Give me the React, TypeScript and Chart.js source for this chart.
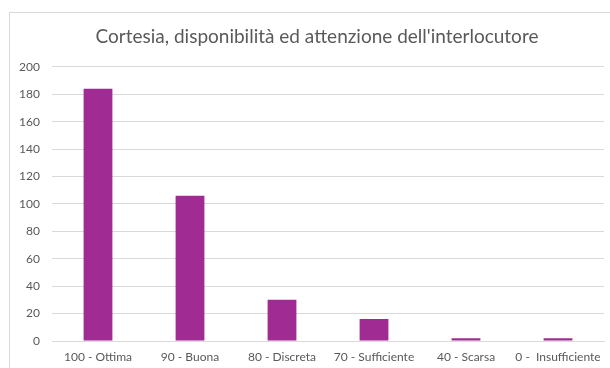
import React, { useEffect, useRef } from "react";
import { Chart, registerables } from "chart.js";

Chart.register(...registerables);

const categories = ["100 - Ottima", "90 - Buona", "80 - Discreta", "70 - Sufficiente", "40 - Scarsa", "0 -  Insufficiente"];
const values = [184, 106, 30, 16, 2, 2];
const yTicks = { min: 0, max: 200, step: 20 };
const titleText = "Cortesia, disponibilità ed attenzione dell'interlocutore";

const FONT = "Lato, 'Open Sans', sans-serif";

const borderPlugin = {
  id: "frameBorder",
  beforeDraw(chart: any) {
    const ctx = chart.ctx;
    ctx.save();
    ctx.fillStyle = "#ffffff";
    ctx.fillRect(0, 0, chart.width, chart.height);
    ctx.strokeStyle = "#d9d9d9";
    ctx.lineWidth = 1;
    ctx.strokeRect(9.5, 12.5, chart.width + 20, chart.height + 20);
    ctx.restore();
  },
  afterLayout(chart: any) {
    const tb = chart.titleBlock;
    if (tb) {
      tb.left += 9;
      tb.right += 9;
    }
  },
};

export default function App() {
  const ref = useRef<HTMLCanvasElement | null>(null);
  useEffect(() => {
    document.documentElement.style.overflow = "hidden";
    const chart = new Chart(ref.current!, {
      type: "bar",
      data: {
        labels: categories,
        datasets: [
          {
            data: values,
            backgroundColor: "#A02B93",
            categoryPercentage: 1,
            barPercentage: 0.313,
          },
        ],
      },
      options: {
        animation: false,
        responsive: false,
        devicePixelRatio: 1,
        layout: { padding: { top: 25, left: 10, right: 4, bottom: 3 } },
        plugins: {
          legend: { display: false },
          tooltip: { enabled: false },
          title: {
            display: true,
            text: titleText,
            color: "#595959",
            font: { family: FONT, size: 19, weight: "normal", lineHeight: 1.2 },
            padding: { top: 0, bottom: 19 },
          },
        },
        scales: {
          x: {
            afterFit(scale: any) {
              scale.height = 24;
            },
            grid: { display: false, drawTicks: false },
            border: { display: true, color: "#d9d9d9" },
            ticks: {
              color: "#595959",
              font: { family: FONT, size: 12, lineHeight: 1.2 },
              padding: 9,
              maxRotation: 0,
              autoSkip: false,
            },
          },
          y: {
            min: yTicks.min,
            max: yTicks.max,
            afterFit(scale: any) {
              scale.width = 42;
            },
            grid: { color: "#d9d9d9", drawTicks: false },
            border: { display: false },
            ticks: {
              stepSize: yTicks.step,
              color: "#595959",
              font: { family: FONT, size: 12 },
              padding: 12,
            },
          },
        },
      },
      plugins: [borderPlugin],
    });
    return () => chart.destroy();
  }, []);
  return (
    <canvas
      ref={ref}
      width={610}
      height={368}
      style={{ position: "fixed", left: 0, top: 0, width: 610, height: 368 }}
    />
  );
}
